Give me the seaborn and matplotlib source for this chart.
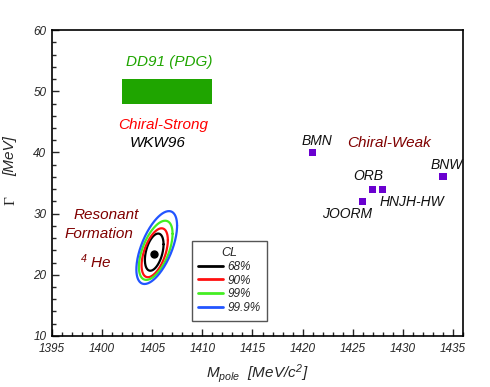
import numpy as np
import pandas as pd
import seaborn as sns
import matplotlib
matplotlib.use('Agg')
import matplotlib.pyplot as plt
from matplotlib.ticker import MultipleLocator

# chiral-weak model predictions (mass, width)
cw_names = ['BMN', 'ORB', 'HNJH-HW', 'JOORM', 'BNW']
cw_mass = [1421.0, 1427.0, 1428.0, 1426.0, 1434.0]
cw_width = [40.0, 34.0, 34.0, 32.0, 36.0]

# PDG band
pdg_mass = [1402.0, 1411.0]
pdg_width = [48.0, 52.0]

# best fit and confidence contours
fit_mass = [1405.2]
fit_width = [23.4]
cl_labels = ['68%', '90%', '99%', '99.9%']
cl_colors = ['#000000', '#ff1010', '#44ee22', '#2255ff']
ell_cx = [1405.2, 1405.25, 1405.35, 1405.45]
ell_cy = [23.7, 23.6, 24.0, 24.45]
ell_sx = [0.93, 1.31, 1.68, 2.03]
ell_sy = [3.04, 4.0, 4.84, 5.96]
ell_rho = [0.42, 0.52, 0.56, 0.6]

x_ticks = [1395, 1400, 1405, 1410, 1415, 1420, 1425, 1430, 1435]
y_ticks = [10, 20, 30, 40, 50, 60]

sns.set_theme(style='ticks')
plt.rcParams['font.family'] = ['Liberation Sans', 'DejaVu Sans']
plt.rcParams['font.style'] = 'italic'
plt.rcParams['mathtext.fontset'] = 'custom'
plt.rcParams['mathtext.it'] = 'Liberation Sans:italic'
plt.rcParams['mathtext.rm'] = 'Liberation Sans:italic'

fig, ax = plt.subplots(figsize=(4.9, 3.87), dpi=100)
fig.subplots_adjust(left=0.106, right=0.945, bottom=0.132, top=0.922)

# ellipses
t = np.linspace(0, 2 * np.pi, 200)
rows = []
for lab, cx, cy, sx, sy, r in zip(cl_labels, ell_cx, ell_cy, ell_sx, ell_sy, ell_rho):
    xs = cx + sx * np.cos(t)
    ys = cy + sy * (r * np.cos(t) + np.sqrt(1 - r * r) * np.sin(t))
    rows.append(pd.DataFrame({'m': xs, 'g': ys, 'CL': lab}))
ell = pd.concat(rows)
sns.lineplot(data=ell, x='m', y='g', hue='CL', palette=dict(zip(cl_labels, cl_colors)),
             sort=False, estimator=None, lw=1.6, ax=ax, legend=False)
ax.plot(fit_mass, fit_width, 'o', color='black', ms=5)

ax.fill_between(pdg_mass, pdg_width[0], pdg_width[1], color='#1fa500', lw=0)

sns.scatterplot(x=cw_mass, y=cw_width, marker='s', color='#6a00d0', s=26,
                edgecolor='none', ax=ax)

offs = {'BMN': (3, 8), 'ORB': (-3, 9.4), 'HNJH-HW': (21, -9), 'JOORM': (-11, -9), 'BNW': (3, 8.6)}
for n, m, g in zip(cw_names, cw_mass, cw_width):
    ax.annotate(n, (m, g), xytext=offs[n], textcoords='offset points',
                ha='center', va='center', fontsize=10, color='#111111')

ax.text(1406.67, 54.8, 'DD91 (PDG)', color='#1fa500', fontsize=11, ha='center', va='center')
ax.text(1406.14, 44.5, 'Chiral-Strong', color='#ff0000', fontsize=11, ha='center', va='center')
ax.text(1405.57, 41.5, 'WKW96', color='black', fontsize=11, ha='center', va='center')
ax.text(1428.6, 41.5, 'Chiral-Weak', color='#800000', fontsize=11, ha='center', va='center')
ax.text(1400.37, 29.8, 'Resonant', color='#800000', fontsize=11, ha='center', va='center')
ax.text(1399.72, 26.7, 'Formation', color='#800000', fontsize=11, ha='center', va='center')
ax.text(1399.4, 22.1, r'$^{4}$ He', color='#800000', fontsize=11, ha='center', va='center')

ax.set_xlim(1395, 1436)
ax.set_ylim(10, 60)
ax.set_xticks(x_ticks, [str(v) for v in x_ticks], fontstyle='italic', fontsize=8.5)
ax.set_yticks(y_ticks, [str(v) for v in y_ticks], fontstyle='italic', fontsize=8.5)
ax.xaxis.set_minor_locator(MultipleLocator(1))
ax.yaxis.set_minor_locator(MultipleLocator(2))
ax.tick_params(which='major', direction='in', length=5, width=1)
ax.tick_params(axis='x', which='major', pad=5)
ax.tick_params(axis='y', which='major', pad=4)
ax.tick_params(which='minor', direction='in', length=3, width=1)
for s in ax.spines.values():
    s.set_linewidth(1.2)
    s.set_color('black')

ax.set_xlabel(r'$M_{pole}$  [MeV/$c^2$]', fontsize=11, labelpad=5)
ax.set_ylabel('')
fig.text(0.022, 0.483, 'Γ', family='Liberation Serif', style='normal', fontsize=11,
         rotation=90, ha='center', va='center')
fig.text(0.022, 0.597, '[MeV]', fontsize=11, rotation=90, ha='center', va='center')

leg = ax.legend(ax.lines[:4], cl_labels, title='CL', loc='lower left',
                bbox_to_anchor=(0.34, 0.05), borderaxespad=0, fontsize=8.5,
                title_fontsize=9, handlelength=2.1, handletextpad=0.35,
                labelspacing=0.15, fancybox=False, framealpha=1,
                edgecolor='#555555', borderpad=0.55)
leg.get_frame().set_linewidth(1.0)
leg.get_title().set_fontstyle('italic')
for h in leg.get_lines():
    h.set_linewidth(2)

fig.savefig('out.png', dpi=100)
